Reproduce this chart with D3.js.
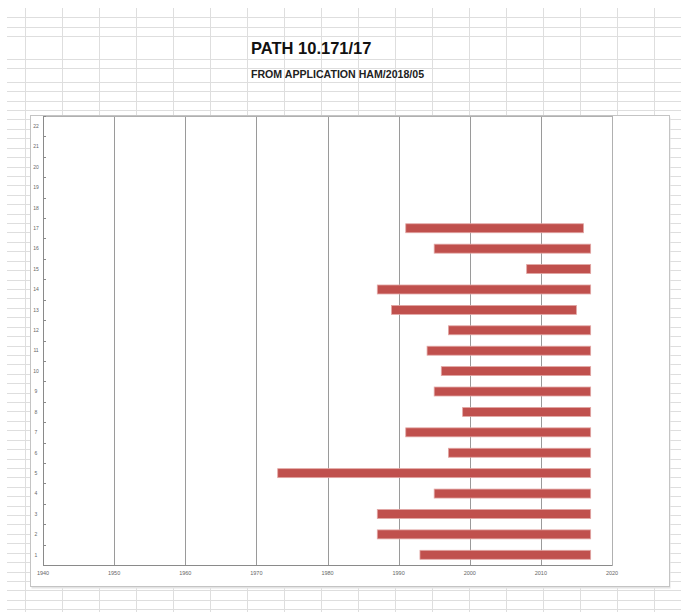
<!DOCTYPE html>
<html>
<head>
<meta charset="utf-8">
<script src="https://cdn.jsdelivr.net/npm/d3@7"></script>
<style>
  html, body { margin: 0; padding: 0; background: #fff; }
  svg { display: block; }
</style>
</head>
<body>
<svg id="chart" width="681" height="612"></svg>
<script>
// Row numbers shown on the vertical axis (1 at the bottom, 22 at the top)
const categories = ["1","2","3","4","5","6","7","8","9","10","11","12","13","14","15","16","17","18","19","20","21","22"];
// Start and end year of each row's span (rows 18-22 are empty)
const startYears = [1993, 1987, 1987, 1995, 1973, 1997, 1991, 1999, 1995, 1996, 1994, 1997, 1989, 1987, 2008, 1995, 1991, null, null, null, null, null];
const endYears   = [2017, 2017, 2017, 2017, 2017, 2017, 2017, 2017, 2017, 2017, 2017, 2017, 2015, 2017, 2017, 2017, 2016, null, null, null, null, null];
// Year ticks along the horizontal axis
const yearTicks = [1940, 1950, 1960, 1970, 1980, 1990, 2000, 2010, 2020];

const titleText = "PATH 10.171/17";
const subtitleText = "FROM APPLICATION HAM/2018/05";

const W = 681, H = 612;
const svg = d3.select("#chart");

svg.append("rect").attr("width", W).attr("height", H).attr("fill", "#fff");

// Spreadsheet cell grid in the background
const sheet = svg.append("g").attr("stroke", "#dedede").attr("stroke-width", 1);
const colXs = d3.range(0, 18).map(k => 25 + 37 * k);
const rowYs = [17, 27, 36, 59, 68, 82, 91, 101].concat(d3.range(0, 55).map(k => 110 + 9.42 * k));
sheet.selectAll("line.col").data(colXs).join("line")
  .attr("class", "col")
  .attr("x1", d => Math.round(d) + 0.5).attr("x2", d => Math.round(d) + 0.5)
  .attr("y1", 8).attr("y2", H);
sheet.selectAll("line.row").data(rowYs.filter(y => y < H)).join("line")
  .attr("class", "row")
  .attr("x1", 7).attr("x2", W)
  .attr("y1", d => Math.round(d) + 0.5).attr("y2", d => Math.round(d) + 0.5);

// Titles
svg.append("text")
  .attr("x", 251).attr("y", 54)
  .attr("font-family", "Liberation Sans, Arial, sans-serif")
  .attr("font-weight", "bold").attr("font-size", 16.5)
  .attr("fill", "#111")
  .text(titleText);
svg.append("text")
  .attr("x", 251).attr("y", 78)
  .attr("font-family", "Liberation Sans, Arial, sans-serif")
  .attr("font-weight", "bold").attr("font-size", 10.6)
  .attr("fill", "#222")
  .text(subtitleText);

// Chart frame
svg.append("rect")
  .attr("x", 31.5).attr("y", 117.5).attr("width", 639).attr("height", 471)
  .attr("fill", "#e4e4e4");
svg.append("rect")
  .attr("x", 30.5).attr("y", 115.5).attr("width", 639).attr("height", 471)
  .attr("fill", "#fff").attr("stroke", "#c4c4c4");

// Scales
const x = d3.scaleLinear().domain([1940, 2020]).range([43, 612]);
const y = d3.scaleBand().domain(categories.slice().reverse()).range([116, 565]).paddingInner(0.56).paddingOuter(0.28);
const yFull = d3.scaleBand().domain(categories.slice().reverse()).range([116, 565]);

// Vertical gridlines at each decade
svg.append("g").selectAll("line").data(yearTicks.slice(1, -1)).join("line")
  .attr("x1", d => Math.round(x(d)) + 0.5).attr("x2", d => Math.round(x(d)) + 0.5)
  .attr("y1", 116).attr("y2", 565)
  .attr("stroke", "#9a9a9a").attr("stroke-width", 1);

// Plot area border
svg.append("rect")
  .attr("x", 43.5).attr("y", 116.5).attr("width", x(2020) - x(1940)).attr("height", 565 - 116)
  .attr("fill", "none").attr("stroke", "#b0b0b0");

// Bars
const rows = categories.map((c, i) => ({ cat: c, start: startYears[i], end: endYears[i] }))
  .filter(d => d.start != null && d.end != null);
svg.append("g").selectAll("rect").data(rows).join("rect")
  .attr("x", d => x(d.start))
  .attr("width", d => x(d.end) - x(d.start))
  .attr("y", d => y(d.cat))
  .attr("height", y.bandwidth())
  .attr("fill", "#c0504d")
  .attr("stroke", "#e2a7a5").attr("stroke-width", 0.8);

// Left axis
const yAxis = svg.append("g").attr("transform", "translate(43.5,0)");
yAxis.append("line").attr("y1", 116).attr("y2", 565).attr("stroke", "#8a8a8a");
yAxis.selectAll("line.tick").data(categories).join("line")
  .attr("class", "tick")
  .attr("x1", 0).attr("x2", 2.5)
  .attr("y1", d => Math.round(yFull(d)) + 0.5).attr("y2", d => Math.round(yFull(d)) + 0.5)
  .attr("stroke", "#8a8a8a");
yAxis.selectAll("text").data(categories).join("text")
  .attr("x", -7.5)
  .attr("y", d => yFull(d) + yFull.bandwidth() / 2)
  .attr("dy", "0.35em")
  .attr("text-anchor", "middle")
  .attr("font-family", "Liberation Sans, Arial, sans-serif")
  .attr("font-size", 5)
  .attr("fill", "#666")
  .text(d => d);

// Bottom axis
const xAxis = svg.append("g").attr("transform", "translate(0,565.5)");
xAxis.append("line").attr("x1", 43).attr("x2", 612).attr("stroke", "#8a8a8a");
xAxis.selectAll("text").data(yearTicks).join("text")
  .attr("x", d => x(d))
  .attr("y", 9.5)
  .attr("text-anchor", "middle")
  .attr("font-family", "Liberation Sans, Arial, sans-serif")
  .attr("font-size", 5.5)
  .attr("fill", "#666")
  .text(d => d);
</script>
</body>
</html>
